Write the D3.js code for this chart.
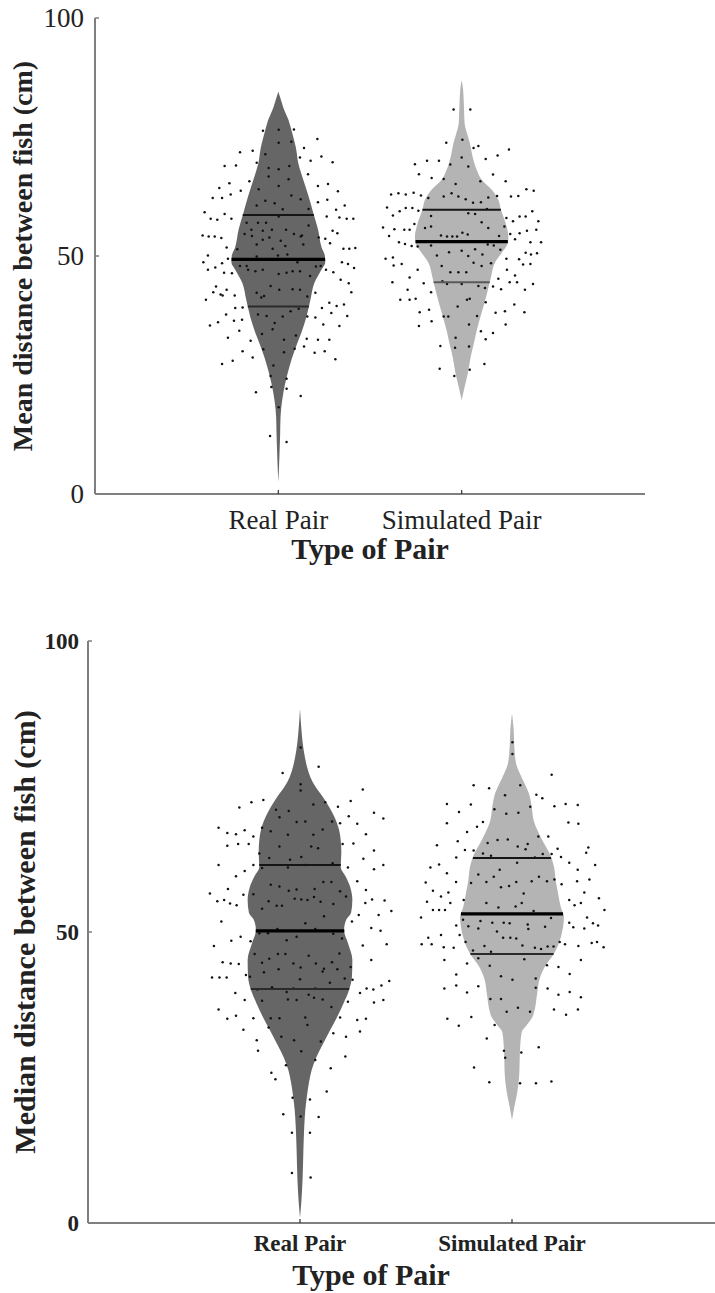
<!DOCTYPE html>
<html>
<head>
<meta charset="utf-8">
<script src="https://cdn.jsdelivr.net/npm/d3@7"></script>
<style>
  html, body { margin: 0; padding: 0; background: #fff; }
  svg { display: block; }
</style>
</head>
<body>
<script>
// ---- data -------------------------------------------------------------
const categories = ["Real Pair", "Simulated Pair"];
const yTicks = [0, 50, 100];

// Individual pairs: [horizontal jitter (category units), distance (cm)]
const meanRealPoints = [
  [-0.084,76.3],[0.002,76.5],[0.085,76.6],[0.213,74.6],[0.002,73.8],[0.071,74.0],[0.14,72.7],[-0.209,71.8],[-0.14,72.1],[-0.071,71.4],
  [0.118,70.7],[0.235,70.9],[0.176,70.0],[0.296,69.7],[-0.293,68.9],[-0.231,69.0],[-0.118,69.6],[-0.053,68.5],[0.002,68.2],[0.06,68.9],
  [0.056,66.1],[-0.053,66.7],[0.162,67.2],[0.271,65.1],[0.216,64.7],[-0.158,65.7],[-0.267,65.3],[-0.322,64.3],[-0.205,63.7],[-0.107,64.0],
  [0.002,64.7],[0.325,63.6],[-0.26,62.9],[-0.307,62.2],[-0.358,62.2],[0.071,62.7],[0.122,61.9],[0.267,61.8],[0.216,61.3],[0.362,60.6],
  [-0.071,61.6],[-0.02,61.1],[-0.118,60.6],[0.315,59.7],[0.165,59.9],[0.264,58.3],[0.333,58.1],[0.373,57.8],[0.409,57.8],[-0.402,59.2],
  [-0.293,58.8],[-0.369,57.8],[-0.333,57.6],[-0.256,57.8],[-0.111,57.0],[-0.067,57.0],[0.002,58.3],[0.024,59.8],[-0.173,57.0],[-0.147,55.5],
  [-0.085,55.3],[-0.035,55.5],[0.042,55.5],[0.085,54.6],[0.129,54.3],[0.165,56.4],[0.22,53.9],[0.256,53.6],[0.296,55.3],[0.322,54.8],
  [-0.413,54.3],[-0.38,54.1],[-0.347,54.1],[-0.311,53.8],[-0.184,54.6],[-0.144,54.2],[-0.085,53.4],[-0.049,53.9],[0.013,53.2],[0.122,54.1],
  [0.282,52.7],[-0.282,51.8],[-0.224,51.4],[-0.118,52.4],[-0.031,51.5],[0.038,52.1],[0.136,52.4],[-0.118,49.9],[-0.002,50.1],[0.049,50.3],
  [-0.384,50.1],[-0.275,49.4],[0.355,51.5],[0.387,51.5],[0.42,51.7],[-0.409,48.7],[-0.307,48.5],[-0.209,47.9],[-0.173,47.9],[0.104,48.7],
  [0.205,47.8],[0.231,47.9],[0.347,48.7],[0.38,48.3],[-0.344,47.6],[-0.384,47.1],[-0.296,46.5],[-0.253,46.4],[-0.165,47.1],[-0.125,46.8],
  [-0.085,47.1],[0.002,46.2],[0.045,46.5],[0.078,46.8],[0.118,46.8],[0.173,45.8],[0.26,47.1],[0.3,46.6],[0.413,47.5],[0.34,45.0],
  [0.384,44.3],[-0.34,43.6],[-0.355,42.4],[-0.282,42.9],[-0.304,41.7],[-0.238,41.7],[-0.042,43.7],[-0.118,42.3],[0.005,42.9],[0.078,43.0],
  [0.118,42.9],[0.202,42.3],[0.398,42.4],[-0.093,41.3],[-0.395,40.8],[-0.235,39.1],[-0.195,39.2],[-0.285,37.7],[-0.373,35.4],[-0.329,36.1],
  [-0.242,36.4],[-0.198,36.6],[-0.111,37.7],[-0.064,37.4],[-0.02,35.9],[-0.031,34.6],[0.024,37.3],[0.067,38.4],[0.111,38.9],[0.158,37.3],
  [0.202,37.1],[0.238,39.1],[0.278,40.2],[0.318,39.5],[0.358,39.8],[0.289,38.0],[0.376,37.4],[0.245,35.6],[0.333,35.3],[-0.213,34.3],
  [-0.275,32.8],[-0.151,32.2],[-0.089,33.6],[0.031,32.4],[0.096,33.3],[0.155,32.6],[0.216,32.4],[0.278,32.4],[-0.195,30.0],[-0.082,30.4],
  [0.031,29.8],[0.089,30.5],[0.14,31.0],[0.198,29.7],[0.253,30.0],[-0.307,27.3],[-0.249,28.0],[-0.14,28.7],[0.311,28.3],[-0.027,27.0],
  [-0.042,24.8],[0.045,24.2],[-0.038,22.5],[0.045,22.1],[-0.122,21.4],[0.122,20.6],[0.002,18.2],[-0.045,12.2],[0.045,10.9],[-0.315,41.9],
  [-0.078,41.6],[0.158,41.5]
];

const meanSimPoints = [
  [-0.044,80.8],[0.047,80.8],[0.004,74.4],[-0.084,73.8],[0.065,72.7],[0.091,73.1],[0.258,72.4],[-0.255,69.3],[-0.189,70.0],[-0.124,70.0],
  [-0.062,69.2],[0,70.7],[0.131,70.4],[0.196,71.1],[0.036,68.8],[-0.233,67.2],[-0.164,66.4],[-0.098,66.2],[0.171,67.1],[0.102,65.7],
  [0.24,65.7],[-0.033,65.1],[-0.385,62.9],[-0.345,63.2],[-0.305,62.9],[-0.262,63.3],[-0.222,62.7],[-0.182,62.2],[-0.098,62.5],[-0.055,63.2],
  [-0.018,62.5],[0.022,61.9],[0.062,61.2],[0.105,61.3],[0.145,62.3],[0.193,62.6],[0.269,62.5],[0.309,62.6],[0.353,64.0],[0.393,63.7],
  [-0.407,60.2],[-0.375,58.5],[-0.338,59.4],[-0.305,60.1],[-0.269,60.1],[-0.236,59.5],[-0.167,58.4],[0.036,59.0],[0.073,58.8],[0.138,59.9],
  [0.244,58.0],[0.28,57.3],[0.316,58.3],[0.349,58.3],[0.385,59.4],[0.418,57.3],[-0.429,56.0],[-0.396,54.2],[-0.367,55.6],[-0.313,55.5],
  [-0.284,55.5],[-0.258,56.7],[-0.2,55.9],[-0.167,56.2],[0.109,57.1],[0.145,55.9],[0.233,56.2],[-0.113,54.3],[-0.08,54.1],[-0.051,54.1],
  [-0.025,54.1],[0.004,54.9],[0.033,54.5],[0.204,54.2],[0.265,54.6],[0.316,54.8],[0.356,55.3],[0.407,55.5],[-0.342,52.9],[-0.309,52.5],
  [-0.273,52.1],[-0.24,52.0],[-0.167,52.2],[0.073,51.4],[0.142,52.4],[0.175,52.2],[0.291,53.5],[0.375,52.9],[0.433,52.9],[-0.415,49.4],
  [-0.375,49.7],[-0.327,48.3],[-0.371,48.0],[-0.135,50.1],[-0.069,50.8],[0,51.1],[0.036,50.0],[0.113,50.3],[0.16,48.5],[0.211,51.3],
  [0.244,49.4],[0.313,49.3],[0.349,50.7],[0.378,50.3],[0.411,50.6],[-0.109,47.9],[-0.062,46.6],[-0.018,46.6],[0.025,46.6],[0.065,48.6],
  [0.109,47.9],[0.247,47.1],[0.335,48.2],[0.375,48.3],[0.291,45.9],[-0.24,47.1],[-0.378,44.5],[-0.284,45.5],[-0.207,44.3],[-0.105,44.7],
  [-0.08,44.1],[0,44.1],[0.091,43.7],[0.127,43.3],[0.171,43.6],[0.2,45.2],[0.215,43.0],[0.262,44.5],[0.302,44.5],[0.345,42.9],
  [0.389,44.1],[-0.295,42.9],[-0.335,40.8],[-0.284,40.8],[-0.251,41.0],[-0.167,42.4],[0.029,40.8],[0.044,41.0],[0.131,40.3],[-0.022,39.4],
  [0.287,39.8],[-0.229,38.2],[-0.178,38.7],[0.185,38.1],[0.236,38.4],[0.342,38.2],[-0.098,37.3],[-0.073,37.3],[-0.164,36.3],[-0.233,35.3],
  [0.084,37.4],[0.04,35.6],[0.24,35.6],[0.105,34.2],[0.171,33.8],[-0.033,32.8],[0.131,32.5],[-0.116,31.1],[-0.036,30.7],[0.04,31.0],
  [-0.12,26.3],[-0.04,24.8],[0.044,26.1],[0.124,27.3]
];

const medianRealPoints = [
  [0.003,81.7],[-0.082,77.3],[0.088,78.4],[0.003,75.4],[0.003,74.3],[0.296,74.5],[-0.286,71.4],[-0.229,72.3],[-0.173,72.7],[-0.113,71.0],
  [-0.053,70.8],[0.063,71.9],[0.119,72.3],[0.179,71.5],[0.239,72.5],[-0.097,69.7],[-0.016,68.9],[0.025,69.0],[0.151,69.0],[0.23,69.9],
  [0.27,68.6],[0.349,70.5],[0.393,69.5],[-0.384,67.9],[-0.343,67.0],[-0.302,66.8],[-0.261,67.5],[-0.22,66.4],[-0.179,67.9],[-0.138,67.3],
  [-0.057,66.7],[0.063,66.7],[0.107,67.6],[0.189,68.7],[0.311,66.8],[-0.343,64.8],[-0.292,65.1],[-0.242,65.1],[-0.097,64.7],[0.053,64.7],
  [0.085,64.4],[0.201,65.1],[0.252,65.2],[0.349,64.0],[-0.192,63.5],[-0.145,62.7],[-0.047,62.4],[0.006,62.9],[0.299,62.6],[-0.384,61.5],
  [-0.302,59.6],[-0.261,60.5],[-0.22,61.5],[-0.179,61.0],[-0.057,61.1],[0.025,61.5],[0.154,61.8],[0.226,61.1],[0.349,60.8],[0.393,61.5],
  [-0.34,57.4],[-0.267,56.4],[-0.22,56.5],[-0.138,58.1],[-0.097,57.8],[-0.053,57.1],[-0.016,57.3],[0.069,57.4],[0.11,58.6],[0.148,58.6],
  [0.189,57.0],[0.27,58.7],[0.311,57.2],[-0.425,56.6],[-0.39,55.3],[-0.358,55.5],[-0.33,54.9],[-0.299,54.6],[-0.148,55.3],[-0.11,54.5],
  [-0.085,54.5],[-0.179,54.0],[-0.025,55.7],[0.006,55.6],[0.035,55.5],[0.066,56.0],[0.097,55.2],[0.157,54.8],[0.217,56.1],[0.308,55.0],
  [0.34,55.6],[0.399,55.4],[0.431,53.6],[0.371,52.9],[0.277,52.9],[0.113,52.7],[-0.371,51.8],[0.025,51.5],[0.245,51.8],[-0.192,49.8],
  [-0.151,49.8],[-0.107,50.5],[0.072,50.5],[0.157,49.7],[0.336,50.7],[0.38,50.2],[-0.28,49.2],[-0.324,48.5],[-0.233,48.4],[-0.406,47.6],
  [-0.063,48.6],[-0.016,49.2],[0.198,48.9],[0.296,47.7],[0.409,47.9],[-0.214,46.2],[-0.145,45.4],[-0.104,46.2],[-0.069,46.2],[0.041,45.9],
  [0.186,46.3],[0.336,45.2],[-0.365,44.8],[-0.327,44.6],[-0.289,44.5],[-0.179,44.7],[-0.031,44.6],[0.075,44.6],[0.151,44.8],[0.239,44.0],
  [-0.101,43.6],[0.003,43.9],[0.113,43.7],[0.176,43.6],[-0.17,43.1],[-0.255,42.6],[-0.415,42.2],[-0.38,42.2],[-0.346,42.2],[-0.236,42.3],
  [0,41.9],[0.107,43.2],[0.141,41.3],[0.211,42.0],[0.248,41.8],[0.421,41.6],[0.384,40.8],[0.314,40.3],[0.346,40.1],[0.283,39.5],
  [-0.201,40.1],[-0.132,40.5],[-0.063,39.7],[-0.031,40.3],[0.072,40.3],[-0.305,39.5],[-0.179,38.2],[-0.057,38.4],[-0.016,38.3],[0.041,39.2],
  [0.066,38.7],[0.107,38.4],[-0.261,38.3],[0.226,38.0],[0.349,37.9],[0.393,38.3],[0.148,37.1],[-0.384,36.7],[-0.343,35.1],[-0.302,35.6],
  [-0.22,35.2],[-0.138,35.2],[-0.097,35.2],[0.025,35.3],[0.189,35.3],[0.27,34.9],[0.311,35.1],[0.035,34.0],[-0.148,33.6],[-0.267,33.2],
  [0.157,32.6],[0.283,32.9],[-0.088,32.0],[0.217,32.0],[-0.204,31.4],[-0.028,31.4],[0.098,31.2],[-0.198,29.6],[0.006,29.5],[0.214,28.6],
  [0.072,28.0],[-0.066,27.1],[0.145,26.6],[-0.135,25.8],[-0.116,24.7],[0.126,22.6],[-0.035,21.5],[0.047,21.2],[-0.079,18.7],[0.003,18.3],
  [0.088,18.2],[-0.038,15.5],[0.047,15.5],[-0.038,8.6],[0.05,7.8]
];

const medianSimPoints = [
  [0.002,82.6],[0.002,80.6],[0.187,77.0],[-0.181,75.2],[-0.108,74.7],[0.039,75.2],[-0.033,73.5],[0.115,73.6],[0.143,73.0],[-0.307,72.0],
  [-0.194,71.9],[-0.083,71.1],[0.086,71.5],[0.2,71.6],[0.253,72.0],[0.31,71.8],[-0.25,70.6],[-0.027,70.3],[0.03,70.5],[-0.307,68.7],
  [-0.165,68.1],[-0.137,68.9],[0.266,68.8],[0.313,68.6],[-0.212,67.2],[0.124,66.4],[0.171,66.4],[-0.256,65.6],[-0.354,64.9],[-0.115,65.3],
  [-0.068,65.8],[-0.02,65.9],[0.027,64.7],[0.074,65.1],[0.064,64.2],[0.215,64.3],[-0.222,64.1],[-0.181,64.0],[-0.137,63.5],[-0.099,63.1],
  [-0.263,62.8],[0.108,62.8],[0.145,63.4],[0.187,63.4],[0.231,62.9],[0.36,64.5],[0.35,63.6],[-0.385,61.1],[-0.344,61.6],[-0.307,60.1],
  [-0.159,59.9],[-0.086,59.5],[-0.058,60.7],[0.024,61.9],[0.27,61.9],[0.31,60.7],[0.392,61.5],[-0.407,58.5],[-0.264,58.6],[-0.193,58.4],
  [-0.121,58.6],[-0.052,57.7],[-0.014,57.9],[0.02,58.6],[0.093,58.7],[0.127,59.5],[0.165,58.7],[0.2,59.0],[0.234,58.2],[0.307,58.7],
  [0.365,59.0],[-0.373,57.1],[-0.335,56.1],[-0.3,56.8],[0.055,56.6],[0.341,56.8],[0.41,55.8],[-0.401,55.2],[-0.291,55.0],[-0.228,55.5],
  [-0.121,55.0],[0.017,54.4],[0.046,55.0],[0.27,55.5],[0.295,54.6],[0.325,55.0],[-0.373,53.8],[-0.344,53.8],[-0.316,53.8],[-0.064,54.2],
  [0.102,53.6],[0.436,53.8],[-0.429,52.5],[-0.231,52.1],[-0.149,51.9],[-0.093,51.6],[-0.039,51.6],[-0.011,51.5],[0.184,52.4],[0.354,52.5],
  [-0.263,51.1],[-0.206,51.0],[-0.159,50.6],[0.074,51.3],[0.156,50.9],[0.27,51.6],[0.289,50.8],[0.341,50.6],[0.382,51.5],[0.406,51.1],
  [-0.335,49.5],[-0.247,49.5],[-0.071,50.1],[0.077,50.5],[-0.395,49.0],[-0.042,49.0],[-0.008,49.0],[0.02,48.9],[-0.426,47.9],[-0.379,47.9],
  [-0.322,47.4],[-0.275,47.3],[-0.219,48.3],[-0.13,47.6],[0.049,47.7],[0.108,47.3],[0.137,47.1],[0.168,47.5],[0.196,47.5],[0.225,48.3],
  [0.25,47.9],[0.313,47.6],[0.376,48.1],[0.401,48.3],[0.432,47.4],[-0.184,46.8],[-0.099,46.6],[-0.319,45.2],[-0.212,44.6],[-0.159,45.5],
  [0.058,45.3],[0.219,44.0],[0.325,45.2],[0.165,44.3],[-0.105,44.2],[-0.263,42.7],[-0.052,42.4],[0.002,41.8],[0.112,42.0],[0.272,42.8],
  [-0.319,40.3],[-0.263,40.8],[-0.159,40.7],[0.112,40.4],[0.168,40.3],[-0.212,39.6],[-0.102,38.5],[-0.052,38.5],[0.219,39.2],[0.272,39.7],
  [0.325,38.8],[-0.251,33.9],[-0.192,35.4],[-0.082,34.0],[-0.119,31.7],[-0.038,29.6],[-0.032,28.4],[0.044,29.3],[0.126,30.2],[-0.179,26.7],
  [-0.107,24.2],[0.038,24.0],[0.113,24.0],[0.186,24.3],[-0.305,35.1],[0.311,36.7],[0.255,35.8],[0.198,36.7],[0.028,37.0],[-0.025,36.3],
  [0.085,36.3]
];

// Violin outlines: [distance (cm), half-width (category units)]
const meanRealOutline = [
  [2.5,0],[5.0,0.003],[9.2,0.007],[12.8,0.010],[16.2,0.012],[19.7,0.021],[23.3,0.038],[26.7,0.060],[30.3,0.090],[33.8,0.125],
  [37.2,0.153],[40.8,0.175],[44.3,0.196],[47.1,0.235],[48.7,0.256],[50.0,0.254],[51.9,0.235],[55.5,0.217],[59.0,0.191],[62.4,0.166],
  [66.0,0.136],[69.5,0.109],[72.9,0.095],[75.8,0.076],[78.6,0.055],[81.3,0.026],[82.8,0.014],[84.5,0]
];
const meanSimOutline = [
  [19.7,0],[22.5,0.016],[25.4,0.034],[28.8,0.049],[31.7,0.067],[34.5,0.083],[37.2,0.102],[40.1,0.124],[42.9,0.143],[45.6,0.160],
  [48.5,0.180],[50.6,0.217],[52.7,0.251],[54.0,0.255],[56.9,0.240],[59.7,0.214],[61.8,0.200],[63.9,0.164],[66.0,0.109],[68.1,0.082],
  [70.8,0.060],[73.7,0.045],[75.8,0.029],[77.9,0.016],[80.7,0.013],[84.9,0.008],[87.0,0]
];
const medianRealOutline = [
  [0.9,0],[4.0,0.007],[7.4,0.012],[12.5,0.016],[16.5,0.020],[19.4,0.025],[21.6,0.032],[24.1,0.042],[26.3,0.055],[28.5,0.077],
  [30.9,0.110],[33.2,0.143],[35.4,0.175],[37.8,0.206],[40.0,0.231],[42.3,0.245],[45.2,0.247],[48.1,0.226],[50.3,0.208],[52.1,0.218],
  [53.3,0.241],[55.5,0.247],[57.7,0.237],[59.5,0.216],[61.2,0.192],[63.6,0.195],[65.8,0.192],[68.0,0.181],[69.8,0.162],[71.5,0.137],
  [73.2,0.108],[74.9,0.074],[76.6,0.049],[78.4,0.033],[81.3,0.017],[84.2,0.008],[88.3,0]
];
const medianSimOutline = [
  [17.7,0],[20.3,0.013],[22.5,0.025],[25.4,0.034],[29.9,0.038],[32.8,0.046],[34.0,0.070],[35.7,0.100],[39.5,0.119],[41.8,0.129],
  [44.0,0.154],[46.4,0.200],[48.6,0.226],[50.9,0.241],[52.6,0.245],[54.3,0.230],[56.7,0.217],[58.9,0.206],[61.2,0.198],[63.6,0.176],
  [65.3,0.150],[67.0,0.126],[69.2,0.102],[71.5,0.093],[73.9,0.079],[75.6,0.058],[77.3,0.036],[79.0,0.019],[81.8,0.011],[84.7,0.008],
  [87.6,0]
];

// Lower quartile, median, upper quartile (cm)
const meanRealQuartiles = [39.4, 49.3, 58.6];
const meanSimQuartiles = [44.5, 53.0, 59.7];
const medianRealQuartiles = [40.2, 50.2, 61.5];
const medianSimQuartiles = [46.2, 53.1, 62.7];

// ---- drawing ------------------------------------------------------------
const W = 715, H = 1293;
const svg = d3.select("body").append("svg").attr("width", W).attr("height", H);

const panels = [
  {
    yLabel: "Mean distance between fish (cm)",
    xLabel: "Type of Pair",
    points: [meanRealPoints, meanSimPoints],
    outlines: [meanRealOutline, meanSimOutline],
    quartiles: [meanRealQuartiles, meanSimQuartiles],
    xRange: [95, 645], yRange: [494, 18],
    tickFont: { size: 27, weight: "normal", right: 84 },
    catFont: { size: 27, weight: "normal", baseline: 529 },
    titleFont: { size: 30, baseline: 559, cx: 370 },
    yTitle: { size: 28, x: 32 },
    lowerColor: ["#2a2a2a", "#5a5a5a"]
  },
  {
    yLabel: "Median distance between fish (cm)",
    xLabel: "Type of Pair",
    points: [medianRealPoints, medianSimPoints],
    outlines: [medianRealOutline, medianSimOutline],
    quartiles: [medianRealQuartiles, medianSimQuartiles],
    xRange: [88, 724], yRange: [1223, 641],
    tickFont: { size: 23, weight: "bold", right: 79 },
    catFont: { size: 23, weight: "bold", baseline: 1251 },
    titleFont: { size: 30, baseline: 1285, cx: 371 },
    yTitle: { size: 30, x: 35 },
    lowerColor: ["#2a2a2a", "#2a2a2a"]
  }
];

const fills = ["#666666", "#b4b4b4"];
const serif = "'Liberation Serif', 'Times New Roman', serif";

// linear interpolation of the outline half-width at a given value
function halfWidthAt(outline, v) {
  const i = d3.bisector(d => d[0]).left(outline, v);
  if (i <= 0) return outline[0][1];
  if (i >= outline.length) return outline[outline.length - 1][1];
  const a = outline[i - 1], b = outline[i];
  const t = (v - a[0]) / (b[0] - a[0]);
  return a[1] + t * (b[1] - a[1]);
}

panels.forEach(p => {
  const g = svg.append("g");
  const x = d3.scaleLinear().domain([0, 3]).range(p.xRange);
  const y = d3.scaleLinear().domain([0, 100]).range(p.yRange);
  const pos = categories.map((c, i) => i + 1);

  // violins
  categories.forEach((c, i) => {
    const cx = pos[i];
    const area = d3.area()
      .y(d => y(d[0]))
      .x0(d => x(cx - d[1]))
      .x1(d => x(cx + d[1]))
      .curve(d3.curveMonotoneY);
    g.append("path")
      .datum(p.outlines[i])
      .attr("d", area)
      .attr("fill", fills[i]);
  });

  // scattered observations
  categories.forEach((c, i) => {
    g.append("g").selectAll("circle")
      .data(p.points[i])
      .join("circle")
      .attr("cx", d => x(pos[i] + d[0]))
      .attr("cy", d => y(d[1]))
      .attr("r", 1.25)
      .attr("fill", "#111");
  });

  // quartile and median bars
  categories.forEach((c, i) => {
    const q = p.quartiles[i];
    const styles = [
      { w: 2, col: p.lowerColor[i] },
      { w: 3.2, col: "#000" },
      { w: 2, col: "#151515" }
    ];
    q.forEach((v, k) => {
      const hw = halfWidthAt(p.outlines[i], v);
      g.append("line")
        .attr("x1", x(pos[i] - hw)).attr("x2", x(pos[i] + hw))
        .attr("y1", y(v)).attr("y2", y(v))
        .attr("stroke", styles[k].col)
        .attr("stroke-width", styles[k].w);
    });
  });

  // axes
  const axisColor = "#7f7f7f";
  g.append("line")
    .attr("x1", x(0)).attr("x2", x(0))
    .attr("y1", y(0)).attr("y2", y(100))
    .attr("stroke", axisColor).attr("stroke-width", 2);
  g.append("line")
    .attr("x1", x(0)).attr("x2", x(3))
    .attr("y1", y(0)).attr("y2", y(0))
    .attr("stroke", axisColor).attr("stroke-width", 2);

  // y ticks (inward) and labels
  yTicks.forEach(t => {
    g.append("line")
      .attr("x1", x(0)).attr("x2", x(0) + 4)
      .attr("y1", y(t)).attr("y2", y(t))
      .attr("stroke", axisColor).attr("stroke-width", 1.5);
    g.append("text")
      .attr("x", p.tickFont.right)
      .attr("y", y(t))
      .attr("dy", "0.33em")
      .attr("text-anchor", "end")
      .attr("font-family", serif)
      .attr("font-size", p.tickFont.size)
      .attr("font-weight", p.tickFont.weight)
      .attr("fill", "#222")
      .text(t);
  });

  // category ticks and labels
  categories.forEach((c, i) => {
    g.append("line")
      .attr("x1", x(pos[i])).attr("x2", x(pos[i]))
      .attr("y1", y(0)).attr("y2", y(0) - 4)
      .attr("stroke", "#333").attr("stroke-width", 1.2);
    g.append("text")
      .attr("x", x(pos[i]))
      .attr("y", p.catFont.baseline)
      .attr("text-anchor", "middle")
      .attr("font-family", serif)
      .attr("font-size", p.catFont.size)
      .attr("font-weight", p.catFont.weight)
      .attr("fill", "#222")
      .text(c);
  });

  // axis titles
  g.append("text")
    .attr("x", p.titleFont.cx)
    .attr("y", p.titleFont.baseline)
    .attr("text-anchor", "middle")
    .attr("font-family", serif)
    .attr("font-size", p.titleFont.size)
    .attr("font-weight", "bold")
    .attr("fill", "#222")
    .text(p.xLabel);

  const ymid = (p.yRange[0] + p.yRange[1]) / 2;
  g.append("text")
    .attr("transform", `translate(${p.yTitle.x},${ymid}) rotate(-90)`)
    .attr("text-anchor", "middle")
    .attr("font-family", serif)
    .attr("font-size", p.yTitle.size)
    .attr("font-weight", "bold")
    .attr("fill", "#222")
    .text(p.yLabel);
});
</script>
</body>
</html>
